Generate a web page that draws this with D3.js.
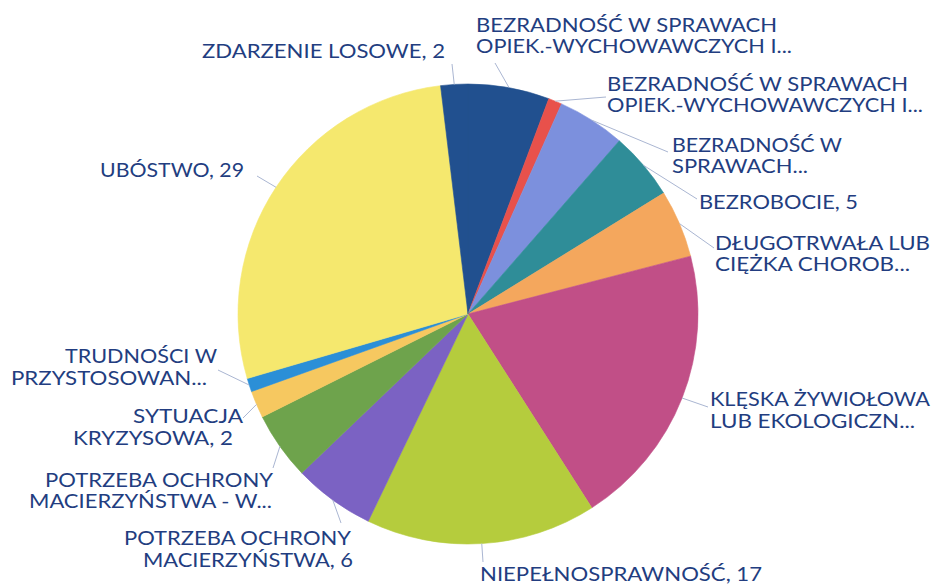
<!DOCTYPE html>
<html>
<head>
<meta charset="utf-8">
<script src="https://cdn.jsdelivr.net/npm/d3@7"></script>
<style>
  html, body { margin: 0; padding: 0; background: #ffffff; }
  svg { display: block; }
  text { font-family: Lato, "Noto Sans", sans-serif; }
</style>
</head>
<body>
<svg id="chart" width="933" height="584"></svg>
<script>
// ---- data ----
const categories = [
  "Bezradność w sprawach opiek.-wychowawczych i prowadzenia gospodarstwa domowego (1)",
  "Bezradność w sprawach opiek.-wychowawczych i prowadzenia gospodarstwa domowego (2)",
  "Bezradność w sprawach opiek.-wychowawczych (3)",
  "Bezrobocie",
  "Długotrwała lub ciężka choroba",
  "Klęska żywiołowa lub ekologiczna",
  "Niepełnosprawność",
  "Potrzeba ochrony macierzyństwa",
  "Potrzeba ochrony macierzyństwa - wielodzietność",
  "Sytuacja kryzysowa",
  "Trudności w przystosowaniu",
  "Ubóstwo",
  "Zdarzenie losowe"
];
const values = [6, 1, 5, 5, 5, 21, 17, 6, 5, 2, 1, 29, 2];
const labelLines = [
  ["BEZRADNOŚĆ W SPRAWACH", "OPIEK.-WYCHOWAWCZYCH I..."],
  ["BEZRADNOŚĆ W SPRAWACH", "OPIEK.-WYCHOWAWCZYCH I..."],
  ["BEZRADNOŚĆ W", "SPRAWACH..."],
  ["BEZROBOCIE, 5"],
  ["DŁUGOTRWAŁA LUB", "CIĘŻKA CHOROB..."],
  ["KLĘSKA ŻYWIOŁOWA", "LUB EKOLOGICZN..."],
  ["NIEPEŁNOSPRAWNOŚĆ, 17"],
  ["POTRZEBA OCHRONY", "MACIERZYŃSTWA, 6"],
  ["POTRZEBA OCHRONY", "MACIERZYŃSTWA - W..."],
  ["SYTUACJA", "KRYZYSOWA, 2"],
  ["TRUDNOŚCI W", "PRZYSTOSOWAN..."],
  ["UBÓSTWO, 29"],
  ["ZDARZENIE LOSOWE, 2"]
];
// palette cycles (13th slice reuses 1st colour, as in the original)
const palette = ["#21508f", "#e8514b", "#7c90dd", "#2f8d98", "#f4a75d", "#c14f87",
                 "#b5cc3d", "#7b62c3", "#6ea34c", "#f6c860", "#2b8fd7", "#f5e86e"];

// ---- layout (label placement, per line: [xLeft, xRight, baseline]) ----
const labelBoxes = [
  [[476, 777, 32], [476, 792, 53]],
  [[607, 908, 91], [607, 923, 112]],
  [[672, 842, 152], [672, 808, 173]],
  [[699, 858, 209]],
  [[715, 930, 250], [715, 910, 271]],
  [[710, 930, 406], [710, 915, 428]],
  [[480, 762, 581]],
  [[124, 351, 545], [143, 353, 567]],
  [[45, 273, 487], [29, 272, 508]],
  [[133, 243, 423], [73, 233, 445]],
  [[65, 217, 363], [11, 207, 385]],
  [[100, 244, 177]],
  [[202, 445, 58]]
];
const leaderEnds = [
  [495, 63], [606, 97], [668, 152], [697, 199], [714, 248], [708, 407],
  [483, 562], [341, 523], [273, 468], [243, 418], [218, 370], [257, 176], [452, 64]
];

const cx = 468, cy = 314, R = 230;

const svg = d3.select("#chart");
const g = svg.append("g").attr("transform", `translate(${cx},${cy})`);

const pie = d3.pie().value(d => d).sort(null).startAngle(0).endAngle(2 * Math.PI);
const arcs = pie(values);
const arc = d3.arc().innerRadius(0).outerRadius(R);

g.selectAll("path.slice")
  .data(arcs)
  .join("path")
  .attr("class", "slice")
  .attr("d", arc)
  .attr("fill", (d, i) => palette[i % palette.length])
  .attr("stroke", (d, i) => palette[i % palette.length])
  .attr("stroke-width", 0.6);

// leader lines
const lines = svg.append("g");
arcs.forEach((d, i) => {
  const a = (d.startAngle + d.endAngle) / 2;
  const x0 = cx + R * Math.sin(a), y0 = cy - R * Math.cos(a);
  const [x1, y1] = leaderEnds[i];
  lines.append("line")
    .attr("x1", x0).attr("y1", y0).attr("x2", x1).attr("y2", y1)
    .attr("stroke", "#aab6d2").attr("stroke-width", 1);
});

// labels: one text element per slice, one tspan per line
const labels = svg.append("g").attr("fill", "#223d80").attr("font-size", 19);
labelLines.forEach((ls, i) => {
  const t = labels.append("text");
  ls.forEach((s, j) => {
    const [xl, xr, yb] = labelBoxes[i][j];
    t.append("tspan")
      .attr("x", xl).attr("y", yb)
      .attr("textLength", xr - xl)
      .attr("lengthAdjust", "spacingAndGlyphs")
      .text(s);
  });
});
</script>
</body>
</html>
